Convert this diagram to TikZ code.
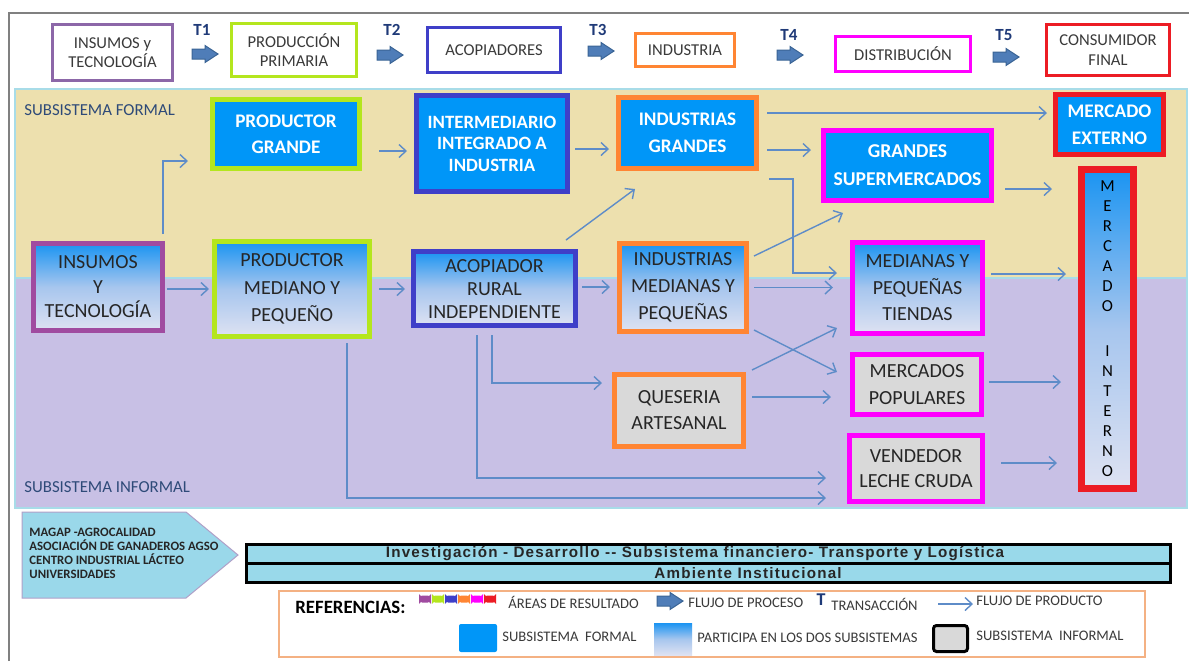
\documentclass[tikz,border=0pt]{standalone}
\usepackage{fontspec}
\setmainfont{Carlito}
\newfontfamily\barfont[LetterSpace=8]{Liberation Sans}
\usetikzlibrary{calc,arrows.meta}
\definecolor{fblue}{HTML}{0096F8}
\definecolor{gtop}{HTML}{1A94F2}
\definecolor{gmid}{HTML}{A7C6EE}
\definecolor{gbot}{HTML}{DEE2F2}
\definecolor{fgray}{HTML}{D9D9D9}
\definecolor{bandy}{HTML}{EDE0AE}
\definecolor{bandp}{HTML}{C8C0E5}
\definecolor{bandline}{HTML}{A8DCE8}
\definecolor{flowc}{HTML}{5E8CC8}
\definecolor{arrfill}{HTML}{4F7DB8}
\definecolor{arrdraw}{HTML}{3A6495}
\definecolor{tnavy}{HTML}{1F3A78}
\definecolor{hdrtxt}{HTML}{3A3A3A}
\definecolor{txtdark}{HTML}{262626}
\definecolor{cpurple}{HTML}{A04BA0}
\definecolor{cpurpleh}{HTML}{8C67A8}
\definecolor{clime}{HTML}{B4E61E}
\definecolor{cindigo}{HTML}{3F3FC8}
\definecolor{corange}{HTML}{FF8533}
\definecolor{cmagenta}{HTML}{FF00FF}
\definecolor{cred}{HTML}{EC1C24}
\definecolor{subtxt}{HTML}{2E4A78}
\definecolor{magapfill}{HTML}{9AD8EA}
\definecolor{magapline}{HTML}{B0A0C8}
\definecolor{barfill}{HTML}{99D9EA}
\definecolor{legorange}{HTML}{F4B183}
\definecolor{framegray}{HTML}{808080}
\begin{document}
\begin{tikzpicture}[x=0.5pt,y=-0.5pt,
 px/.style 2 args={minimum width=#1*0.5pt,minimum height=#2*0.5pt},
 hdrbox/.style={draw,line width=1.5pt,fill=white,align=center,inner sep=0pt,text=hdrtxt,font=\fontsize{8.3}{9.8}\selectfont},
 bluebox/.style={draw,line width=2.5pt,fill=fblue,align=center,inner sep=0pt,text=white,font=\fontsize{9.6}{13}\selectfont\bfseries},
 gradbox/.style={draw,line width=2.5pt,top color=gtop,bottom color=gbot,middle color=gmid,align=center,inner sep=0pt,text=txtdark,font=\fontsize{10}{13.5}\selectfont},
 graybox/.style={draw,line width=2.5pt,fill=fgray,align=center,inner sep=0pt,text=txtdark,font=\fontsize{10}{13}\selectfont},
 flowarrow/.style={draw=flowc,line width=0.7pt,-{Straight Barb[length=3.5pt,width=6.5pt]}},
 tlabel/.style={inner sep=0pt,text=tnavy,font=\fontsize{8.5}{9}\selectfont\bfseries},
 legtxt/.style={anchor=west,inner sep=0pt,text=hdrtxt,font=\fontsize{7.3}{8}\selectfont},
 subtitle/.style={anchor=west,inner sep=0pt,text=subtxt,font=\fontsize{8.4}{9}\selectfont},
 minidash/.style={draw=#1,line width=2pt,fill=white,rounded corners=0.8pt,inner sep=0pt},
 barbox/.style={draw=black,line width=1.5pt,fill=barfill,inner sep=0pt},
 bartext/.style={inner sep=0pt,text=txtdark,font=\barfont\fontsize{7.6}{8}\selectfont\bfseries},
 barrow/.pic={\filldraw[fill=arrfill,draw=arrdraw,line width=0.5pt]
   (-13,-5) -- (0,-5) -- (0,-8.5) -- (13,0) -- (0,8.5) -- (0,5) -- (-13,5) -- cycle;}
]
\useasboundingbox (0,0) rectangle (1189,661);
\fill[white] (0,0) rectangle (1189,661);
% frame
\draw[framegray,line width=1pt] (9,661) -- (9,13) -- (1189,13);
% bands
\fill[bandy] (15,89) rectangle (1187,278);
\fill[bandp] (15,278) rectangle (1187,508);
\draw[bandline,line width=0.6pt] (15,89) rectangle (1187,508);
\draw[bandline,line width=0.6pt] (15,278) -- (1187,278);
\node[subtitle] (sf) at (24,110) {SUBSISTEMA FORMAL};
\node[subtitle] (si) at (24,487) {SUBSISTEMA INFORMAL};

% header
\node[hdrbox,draw=cpurpleh,px={120}{56}] (hIns) at (112.5,52.5) {INSUMOS y\\TECNOLOGÍA};
\node[hdrbox,draw=clime,px={125}{53}] (hProd) at (294,50) {PRODUCCIÓN\\PRIMARIA};
\node[hdrbox,draw=cindigo,px={133}{45}] (hAcop) at (494,50) {ACOPIADORES};
\node[hdrbox,draw=corange,px={99}{33}] (hInd) at (685,50) {INDUSTRIA};
\node[hdrbox,draw=cmagenta,px={135}{35}] (hDist) at (903,54) {DISTRIBUCIÓN};
\node[hdrbox,draw=cred,px={123}{51}] (hCons) at (1108,50) {CONSUMIDOR\\FINAL};
\node[tlabel] (t1) at (202,30) {T1};
\node[tlabel] (t2) at (392,30) {T2};
\node[tlabel] (t3) at (598,30) {T3};
\node[tlabel] (t4) at (789,35) {T4};
\node[tlabel] (t5) at (1004,35) {T5};
\pic at (205,54) {barrow};
\pic at (390,55) {barrow};
\pic at (601,51) {barrow};
\pic at (790,55) {barrow};
\pic at (1006,57) {barrow};

% main nodes
\node[bluebox,draw=clime,px={147}{69}] (pg) at (286,134) {PRODUCTOR\\GRANDE};
\node[bluebox,draw=cindigo,px={151}{96},font=\fontsize{9.4}{10.75}\selectfont\bfseries] (inter) at (492,143.5) {INTERMEDIARIO\\INTEGRADO A\\INDUSTRIA};
\node[bluebox,draw=corange,px={138}{71},font=\fontsize{9.6}{13.5}\selectfont\bfseries] (ig) at (687.5,133) {INDUSTRIAS\\GRANDES};
\node[bluebox,draw=cmagenta,px={168}{70},font=\fontsize{9.8}{14}\selectfont\bfseries] (gs) at (907.5,165.5) {GRANDES\\SUPERMERCADOS};
\node[bluebox,draw=cred,px={108}{60},font=\fontsize{9.6}{13.5}\selectfont\bfseries] (me) at (1109.5,124.5) {MERCADO\\EXTERNO};
\node[gradbox,draw=cpurple,px={129}{87},font=\fontsize{10}{12.25}\selectfont] (ins) at (98,287) {INSUMOS\\Y\\TECNOLOGÍA};
\node[gradbox,draw=clime,px={155}{95},font=\fontsize{10}{13.75}\selectfont] (pmp) at (292,289) {PRODUCTOR\\MEDIANO Y\\PEQUEÑO};
\node[gradbox,draw=cindigo,px={162}{74},font=\fontsize{10}{11.5}\selectfont] (acop) at (494.5,288.5) {ACOPIADOR\\RURAL\\INDEPENDIENTE};
\node[gradbox,draw=corange,px={127}{88}] (imp) at (683,287.5) {INDUSTRIAS\\MEDIANAS Y\\PEQUEÑAS};
\node[gradbox,draw=cmagenta,px={130}{91},font=\fontsize{10}{13.25}\selectfont] (mpt) at (917.5,288) {MEDIANAS Y\\PEQUEÑAS\\TIENDAS};
\node[gradbox,draw=cred,line width=3.5pt,px={52}{319},text=black,font=\fontsize{8.4}{10}\selectfont] (mi) at (1107.5,329) {M\\E\\R\\C\\A\\D\\O\\[12.5pt]I\\N\\T\\E\\R\\N\\O};
\node[graybox,draw=corange,px={129}{72}] (qa) at (679,410.5) {QUESERIA\\ARTESANAL};
\node[graybox,draw=cmagenta,px={129}{60},font=\fontsize{10}{13.5}\selectfont] (mp) at (917,384.5) {MERCADOS\\POPULARES};
\node[graybox,draw=cmagenta,px={133}{66},font=\fontsize{10}{12.5}\selectfont] (vlc) at (916,468.5) {VENDEDOR\\LECHE CRUDA};

% connectors
\draw[flowarrow] ($(ins.north east)+(-2,-7)$) |- ($(pg.west)+(-22,27)$);
\draw[flowarrow] ($(pg.east)+(17,17)$) -- ($(inter.west |- pg.east)+(-7,17)$);
\draw[flowarrow] ($(ins.east |- pmp.west)+(2,0)$) -- ($(pmp.west)+(-3,0)$);
\draw[flowarrow] ($(pmp.east)+(7,0)$) -- ($(acop.west |- pmp.east)+(-6,0)$);
\draw[flowarrow] ($(acop.north east)+(-12,-9)$) -- ($(ig.south west)+(19,18)$);
\draw[flowarrow] ($(inter.east)+(5,5.5)$) -- ($(ig.west |- inter.east)+(-7,5.5)$);
\draw[flowarrow] ($(acop.east)+(4,-1.5)$) -- ($(imp.west |- acop.east)+(-7,-1.5)$);
\draw[flowarrow] ($(ig.east)+(8,-20)$) -- ($(me.west |- ig.east)+(-6,-20)$);
\draw[flowarrow] ($(ig.east)+(8,17)$) -- ($(gs.west |- ig.east)+(-10,17)$);
\draw[flowarrow] ($(ig.south east)+(10,8)$) -- ++(24,0) |- ($(mpt.west)+(-13,-15)$);
\draw[flowarrow] ($(imp.north east)+(5,15)$) -- ($(gs.south west)+(22,10)$);
\draw[flowarrow] ($(imp.east)+(5,0)$) -- ($(mpt.west |- imp.east)+(-17,0)$);
\draw[flowarrow] ($(imp.south east)+(5,-4)$) -- ($(mp.west)+(-13,-12.5)$);
\draw[flowarrow] ($(qa.north east)+(6,-2)$) -- ($(mpt.south west)+(-13,-8)$);
\draw[flowarrow] ($(qa.east)+(6,-13.5)$) -- ($(mp.west |- qa.east)+(-19,-13.5)$);
\draw[flowarrow] ($(acop.south)+(-2.5,7)$) |- ($(qa.west)+(-10,-27.5)$);
\draw[flowarrow] ($(acop.south)+(-17.5,7)$) |- ($(vlc.west)+(-21,9.5)$);
\draw[flowarrow] ($(pmp.south)+(55,4)$) |- ($(vlc.west)+(-21,29.5)$);
\draw[flowarrow] ($(gs.east)+(11,23.5)$) -- ($(mi.west |- gs.east)+(-26,23.5)$);
\draw[flowarrow] ($(mpt.east)+(6,-14)$) -- ($(mi.west |- mpt.east)+(-12,-14)$);
\draw[flowarrow] ($(mp.east)+(5,-2.5)$) -- ($(mi.west |- mp.east)+(-17,-2.5)$);
\draw[flowarrow] ($(vlc.east)+(16,-5.5)$) -- ($(mi.west |- vlc.east)+(-21,-5.5)$);

% MAGAP pentagon
\filldraw[fill=magapfill,draw=magapline,line width=0.5pt] (22,512) -- (186,512) -- (238,555) -- (186,598) -- (22,598) -- cycle;
\node[anchor=west,align=left,inner sep=0pt,text=txtdark,font=\fontsize{6.4}{7}\selectfont\bfseries] (magap) at (29,553)
 {MAGAP -AGROCALIDAD\\ASOCIACIÓN DE GANADEROS AGSO\\CENTRO INDUSTRIAL LÁCTEO\\UNIVERSIDADES};

% bars
\node[barbox,px={924}{19}] (bar1) at (708.5,553.5) {};
\node[barbox,px={924}{19}] (bar2) at (708.5,572.5) {};
\node[bartext] (bar1t) at (695,553.5) {Investigación - Desarrollo -- Subsistema financiero- Transporte y Logística};
\node[bartext] (bar2t) at (748,573) {Ambiente Institucional};

% legend
\node[draw=legorange,line width=0.6pt,px={866}{66}] (leg) at (712,624) {};
\node[anchor=west,inner sep=0pt,text=black,font=\fontsize{9.4}{10}\selectfont\bfseries] (ref) at (295,607) {REFERENCIAS:};
\node[minidash=cpurple,px={8}{3}] (d1) at (425,599) {};
\node[minidash=clime,px={8}{3}] (d2) at (438,599) {};
\node[minidash=cindigo,px={8}{3}] (d3) at (451,599) {};
\node[minidash=corange,px={8}{3}] (d4) at (464,599) {};
\node[minidash=cmagenta,px={8}{3}] (d5) at (477,599) {};
\node[minidash=cred,px={8}{3}] (d6) at (490,599) {};
\node[legtxt] (l1) at (508,602) {ÁREAS DE RESULTADO};
\pic at (670,601) {barrow};
\node[legtxt] (l2) at (688,603) {FLUJO DE PROCESO};
\node[inner sep=0pt,text=tnavy,font=\fontsize{9}{10}\selectfont\bfseries] (lt) at (821,600) {T};
\node[legtxt] (l3) at (831,604) {TRANSACCIÓN};
\coordinate (la1) at (938,604);
\coordinate (la2) at (973,604);
\draw[flowarrow] (la1) -- (la2);
\node[legtxt] (l4) at (976,601) {FLUJO DE PRODUCTO};
\node[fill=fblue,rounded corners=1pt,px={38}{28}] (sq1) at (478,638) {};
\node[legtxt] (l5) at (502,637) {SUBSISTEMA\ \ FORMAL};
\node[top color=gtop,bottom color=gbot,middle color=gmid,px={38}{32}] (sq2) at (673,639) {};
\node[legtxt] (l6) at (697,638) {PARTICIPA EN LOS DOS SUBSISTEMAS};
\node[draw=black,line width=1.5pt,fill=fgray,rounded corners=1.5pt,px={34}{26}] (sq3) at (950.5,638.5) {};
\node[legtxt] (l7) at (976,636) {SUBSISTEMA\ \ INFORMAL};
\end{tikzpicture}
\end{document}
